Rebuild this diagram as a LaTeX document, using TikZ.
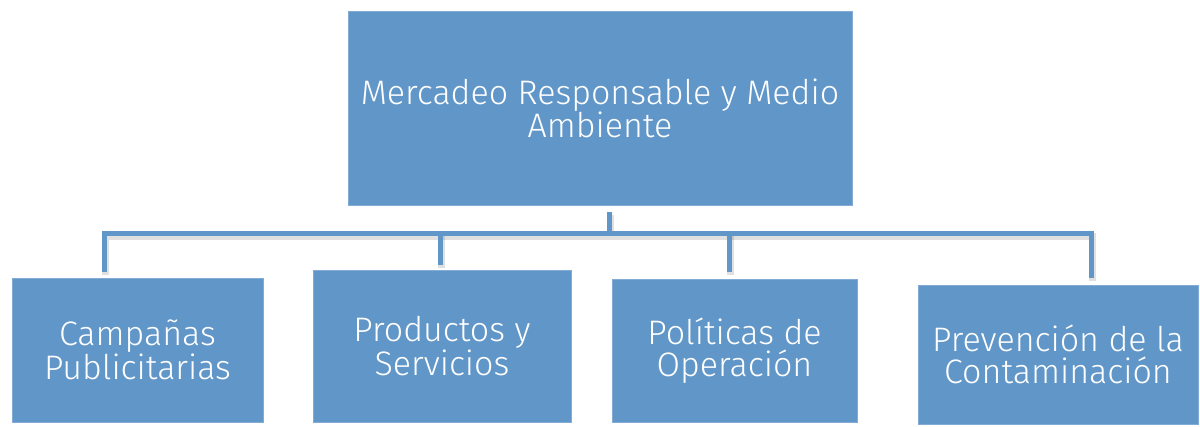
\documentclass[tikz,border=0pt]{standalone}
\usepackage{fontspec}
\setmainfont{Fira Sans}[UprightFont=* Light]
\begin{document}
\begin{tikzpicture}[x=1pt,y=-1pt,
  box/.style={draw=boxedge,line width=0.8pt,fill=boxfill,text=white,align=center,inner sep=0pt,font=\fontsize{34}{32}\selectfont},
  conn/.style={draw=boxfill,line width=5pt},
  connshadow/.style={draw=black,opacity=0.12,line width=7pt}]
\definecolor{boxfill}{RGB}{97,150,200}
\definecolor{boxedge}{RGB}{130,172,214}
\useasboundingbox (0,0) rectangle (1200,426);
\node[box,minimum width=504pt,minimum height=194pt] (top) at (600,108.5) {Mercadeo Responsable y Medio\\Ambiente};
\node[box,minimum width=251pt,minimum height=144pt] (c1) at (137.5,350) {Campañas\\Publicitarias};
\node[box,minimum width=258pt,minimum height=152pt] (c2) at (442,346) {Productos y\\Servicios};
\node[box,minimum width=245pt,minimum height=143pt] (c3) at (734.5,350.5) {Políticas de\\Operación};
\node[box,minimum width=280pt,minimum height=139pt] (c4) at (1058,354.5) {Prevención de la\\Contaminación};
\coordinate (t0) at (609,212);
\coordinate (bar) at (609,233);
\coordinate (s1) at (104,272);
\coordinate (s2) at (440,265);
\coordinate (s3) at (729,272);
\coordinate (s4) at (1091,278);
\begin{scope}[transform canvas={shift={(1pt,-3pt)}}]
\draw[connshadow] (s1) -- (s1 |- bar) -- (s4 |- bar) -- (s4);
\draw[connshadow] (t0) -- (bar);
\draw[connshadow] (s2 |- bar) -- (s2);
\draw[connshadow] (s3 |- bar) -- (s3);
\end{scope}
\draw[conn] (t0) -- (bar);
\draw[conn] (s2 |- bar) -- (s2);
\draw[conn] (s3 |- bar) -- (s3);
\draw[conn] (s1) -- (s1 |- bar) -- (s4 |- bar) -- (s4);
\end{tikzpicture}
\end{document}
